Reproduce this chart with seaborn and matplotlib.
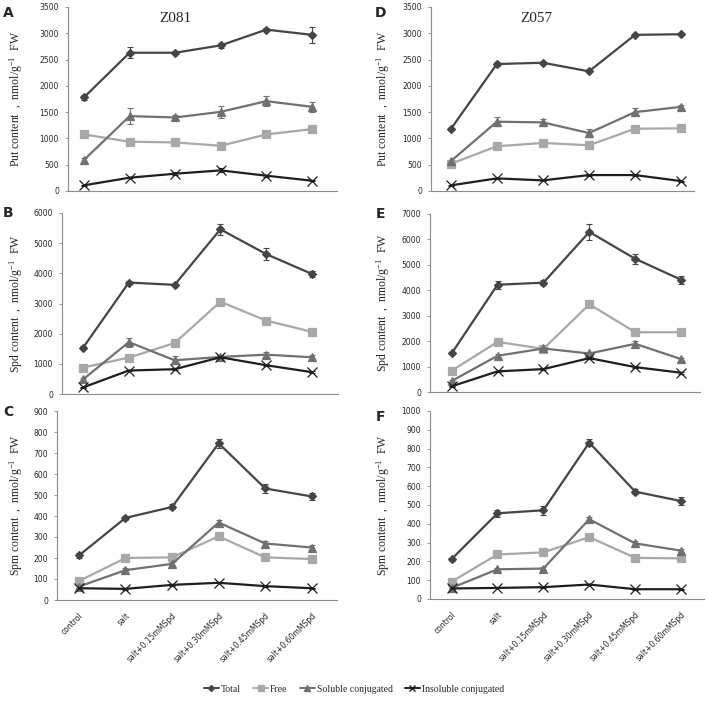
import pandas as pd
import matplotlib.pyplot as plt
import matplotlib.transforms as mtransforms
import seaborn as sns
import numpy as np

# categorias do eixo x
tratamentos = ["control", "salt", "salt+0.15mMSpd", "salt+0.30mMSpd",
               "salt+0.45mMSpd", "salt+0.60mMSpd"]
series = ["Total", "Free", "Soluble conjugated", "Insoluble conjugated"]

# Z081 - Put (A)
a_total = [1780, 2630, 2630, 2770, 3070, 2970]
a_free = [1076, 937, 924, 861, 1076, 1177]
a_sol = [589, 1424, 1399, 1506, 1709, 1601]
a_ins = [108, 253, 329, 392, 291, 196]
a_total_err = [50, 100, 30, 50, 30, 150]
a_free_err = [20, 20, 20, 20, 20, 20]
a_sol_err = [30, 150, 50, 120, 100, 100]
a_ins_err = [15, 15, 30, 40, 20, 15]

# Z081 - Spd (B)
b_total = [1535, 3695, 3618, 5460, 4638, 3980]
b_free = [877, 1206, 1689, 3059, 2434, 2061]
b_sol = [482, 1721, 1118, 1228, 1305, 1217]
b_ins = [219, 778, 822, 1217, 954, 724]
b_total_err = [50, 40, 30, 180, 200, 100]
b_free_err = [30, 30, 30, 40, 30, 30]
b_sol_err = [40, 150, 130, 60, 80, 60]
b_ins_err = [20, 30, 30, 60, 30, 30]

# Z081 - Spm (C)
c_total = [212, 391, 443, 746, 531, 493]
c_free = [90, 200, 203, 303, 203, 195]
c_sol = [64, 142, 172, 369, 269, 250]
c_ins = [56, 53, 72, 82, 66, 56]
c_total_err = [10, 8, 12, 20, 20, 15]
c_free_err = [5, 5, 8, 5, 5, 5]
c_sol_err = [5, 10, 10, 12, 12, 10]
c_ins_err = [3, 3, 3, 3, 3, 3]

# Z057 - Put (D)
d_total = [1179, 2415, 2440, 2276, 2970, 2982]
d_free = [517, 851, 914, 870, 1185, 1192]
d_sol = [567, 1318, 1305, 1103, 1500, 1601]
d_ins = [107, 240, 202, 303, 303, 189]
d_total_err = [20, 40, 20, 20, 20, 20]
d_free_err = [20, 20, 20, 20, 20, 20]
d_sol_err = [20, 90, 60, 70, 70, 40]
d_ins_err = [10, 10, 10, 15, 15, 10]

# Z057 - Spd (E)
e_total = [1515, 4218, 4300, 6295, 5237, 4414]
e_free = [836, 1972, 1698, 3448, 2351, 2351]
e_sol = [431, 1424, 1711, 1515, 1894, 1293]
e_ins = [222, 810, 901, 1332, 979, 757]
e_total_err = [30, 150, 90, 300, 200, 150]
e_free_err = [30, 30, 30, 60, 30, 30]
e_sol_err = [30, 60, 60, 60, 100, 60]
e_ins_err = [20, 30, 30, 40, 30, 30]

# Z057 - Spm (F)
f_total = [212, 456, 472, 832, 571, 521]
f_free = [92, 237, 248, 329, 219, 216]
f_sol = [59, 158, 162, 424, 296, 257]
f_ins = [56, 59, 63, 77, 52, 52]
f_total_err = [8, 20, 25, 20, 15, 20]
f_free_err = [8, 10, 18, 10, 10, 10]
f_sol_err = [5, 8, 10, 12, 10, 8]
f_ins_err = [3, 3, 3, 3, 3, 3]

cores = {"Total": "#454545", "Free": "#a8a8a8",
         "Soluble conjugated": "#707070", "Insoluble conjugated": "#1e1e1e"}
marcadores = {"Total": "D", "Free": "s", "Soluble conjugated": "^",
              "Insoluble conjugated": "x"}
tamanhos = {"Total": 4, "Free": 5.5, "Soluble conjugated": 5.5, "Insoluble conjugated": 6.5}

sns.set_style("white")
plt.rcParams["font.family"] = ["Liberation Serif", "DejaVu Serif"]
plt.rcParams["mathtext.fontset"] = "stix"

fig = plt.figure(figsize=(7.08, 7.11), dpi=100)
W, H = 708, 711


def eixo(x0, x1, ytop, ybot):
    return fig.add_axes([x0 / W, 1 - ybot / H, (x1 - x0) / W, (ybot - ytop) / H])


paineis = [
    ("A", eixo(68, 337, 7, 191), [a_total, a_free, a_sol, a_ins],
     [a_total_err, a_free_err, a_sol_err, a_ins_err], 3500, 500, "Put", (-0.35, 5.55), "Z081"),
    ("B", eixo(62, 338, 213, 394), [b_total, b_free, b_sol, b_ins],
     [b_total_err, b_free_err, b_sol_err, b_ins_err], 6000, 1000, "Spd", (-0.46, 5.57), None),
    ("C", eixo(57, 337, 411, 600), [c_total, c_free, c_sol, c_ins],
     [c_total_err, c_free_err, c_sol_err, c_ins_err], 900, 100, "Spm", (-0.47, 5.54), None),
    ("D", eixo(431, 694, 7, 191), [d_total, d_free, d_sol, d_ins],
     [d_total_err, d_free_err, d_sol_err, d_ins_err], 3500, 500, "Put", (-0.43, 5.28), "Z057"),
    ("E", eixo(430, 700, 214, 392), [e_total, e_free, e_sol, e_ins],
     [e_total_err, e_free_err, e_sol_err, e_ins_err], 7000, 1000, "Spd", (-0.47, 5.41), None),
    ("F", eixo(430, 704, 411, 599), [f_total, f_free, f_sol, f_ins],
     [f_total_err, f_free_err, f_sol_err, f_ins_err], 1000, 100, "Spm", (-0.47, 5.50), None),
]

idx = np.arange(len(tratamentos))

for letra, ax, valores, erros, ymax, passo, nome, xl, titulo in paineis:
    for s, v, e in zip(series, valores, erros):
        ax.errorbar(idx, v, yerr=e, fmt="none", ecolor=cores[s],
                    elinewidth=0.8, capsize=2.5, capthick=0.8, zorder=1)
        df = pd.DataFrame({"x": idx, "valor": v})
        sns.lineplot(data=df, x="x", y="valor", color=cores[s],
                     marker=marcadores[s], markersize=tamanhos[s],
                     markeredgecolor=cores[s], markeredgewidth=0.9,
                     linewidth=1.6, ax=ax, zorder=2)
    ax.set_ylim(0, ymax)
    ax.set_yticks(np.arange(0, ymax + 1, passo))
    ax.set_xlim(*xl)
    ax.set_xticks(idx)
    if letra in ("C", "F"):
        ax.set_xticklabels(tratamentos, rotation=45, ha="right",
                           rotation_mode="anchor", fontsize=5.5,
                           family="DejaVu Sans")
    else:
        ax.set_xticklabels([])
    ax.tick_params(axis="x", length=0, pad=8)
    ax.tick_params(axis="y", left=True, length=2.5, width=0.6, color="#888888",
                   labelsize=5.5, pad=4)
    for t in ax.get_yticklabels():
        t.set_fontfamily("DejaVu Sans")
    for lado in ("top", "right"):
        ax.spines[lado].set_visible(False)
    for lado in ("left", "bottom"):
        ax.spines[lado].set_color("#8a8a8a")
        ax.spines[lado].set_linewidth(0.8)
    ax.set_xlabel("")
    ax.set_ylabel(nome + " content  ,  nmol/g$^{\\mathregular{-1}}$  FW", fontsize=8.5)
    xlab = 25 if letra in "ABC" else 392
    ax.yaxis.set_label_coords(xlab / W, 0.5,
                              transform=mtransforms.blended_transform_factory(
                                  fig.transFigure, ax.transAxes))
    if titulo:
        ax.text(0.40, 0.94, titulo, transform=ax.transAxes, fontsize=11,
                ha="center", va="center")

letras = {"A": (8, 13), "B": (8, 213), "C": (8, 412),
          "D": (381, 13), "E": (380, 214), "F": (380, 417)}
for l, (x, y) in letras.items():
    fig.text(x / W, 1 - y / H, l, fontsize=10, fontweight="bold",
             family="DejaVu Sans", ha="center", va="center")

# legenda
alcas = [plt.Line2D([], [], color=cores[s], marker=marcadores[s],
                    markersize=tamanhos[s] * 0.75, linewidth=1.4,
                    markeredgecolor=cores[s]) for s in series]
fig.legend(alcas, series, loc="center", bbox_to_anchor=(0.5, 1 - 689 / H),
           ncol=4, frameon=False, fontsize=7, handlelength=1.5,
           handletextpad=0.2, columnspacing=1.3)

fig.savefig("out.png", dpi=100)
